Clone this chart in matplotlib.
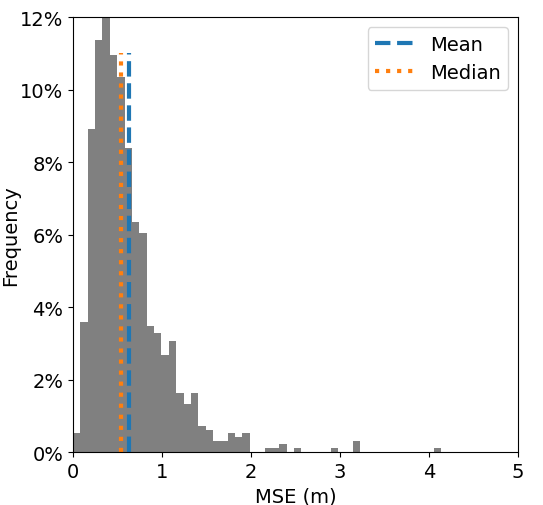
import matplotlib
matplotlib.use("Agg")
import matplotlib.pyplot as plt
import numpy as np
from matplotlib.ticker import PercentFormatter

# histogram of per-sample MSE, 50 bins, values in percent of samples
bin_edges = np.linspace(0.0, 4.14, 51)
freq_pct = [
    0.53, 3.60, 8.92, 11.37, 12.00, 10.96, 10.35, 8.39, 6.36, 6.05,
    3.49, 3.29, 2.68, 3.07, 1.64, 1.33, 1.64, 0.74, 0.62, 0.31,
    0.31, 0.53, 0.42, 0.53, 0.00, 0.00, 0.11, 0.11, 0.22, 0.00,
    0.11, 0.00, 0.00, 0.00, 0.00, 0.11, 0.00, 0.00, 0.33, 0.00,
    0.00, 0.00, 0.00, 0.00, 0.00, 0.00, 0.00, 0.00, 0.00, 0.11,
]
mse_mean = 0.63
mse_median = 0.54
line_top = 11.0

plt.rcParams["font.size"] = 14

fig = plt.figure(figsize=(5.43, 5.06), dpi=100)
ax = fig.add_axes([0.1344, 0.1038, 0.8196, 0.8606])

centers = (bin_edges[:-1] + bin_edges[1:]) / 2
ax.hist(centers, bins=bin_edges, weights=freq_pct, color="gray")
ax.vlines(mse_mean, 0, line_top, colors="C0", linestyles="--", linewidth=3, label="Mean")
ax.vlines(mse_median, 0, line_top, colors="C1", linestyles=":", linewidth=3, label="Median")

ax.set_xlim(0, 5)
ax.set_ylim(0, 12)
ax.yaxis.set_major_formatter(PercentFormatter(100, decimals=0))
ax.set_xlabel("MSE (m)")
ax.set_ylabel("Frequency", labelpad=0)
ax.legend(loc="upper right")

fig.savefig("out.png")
